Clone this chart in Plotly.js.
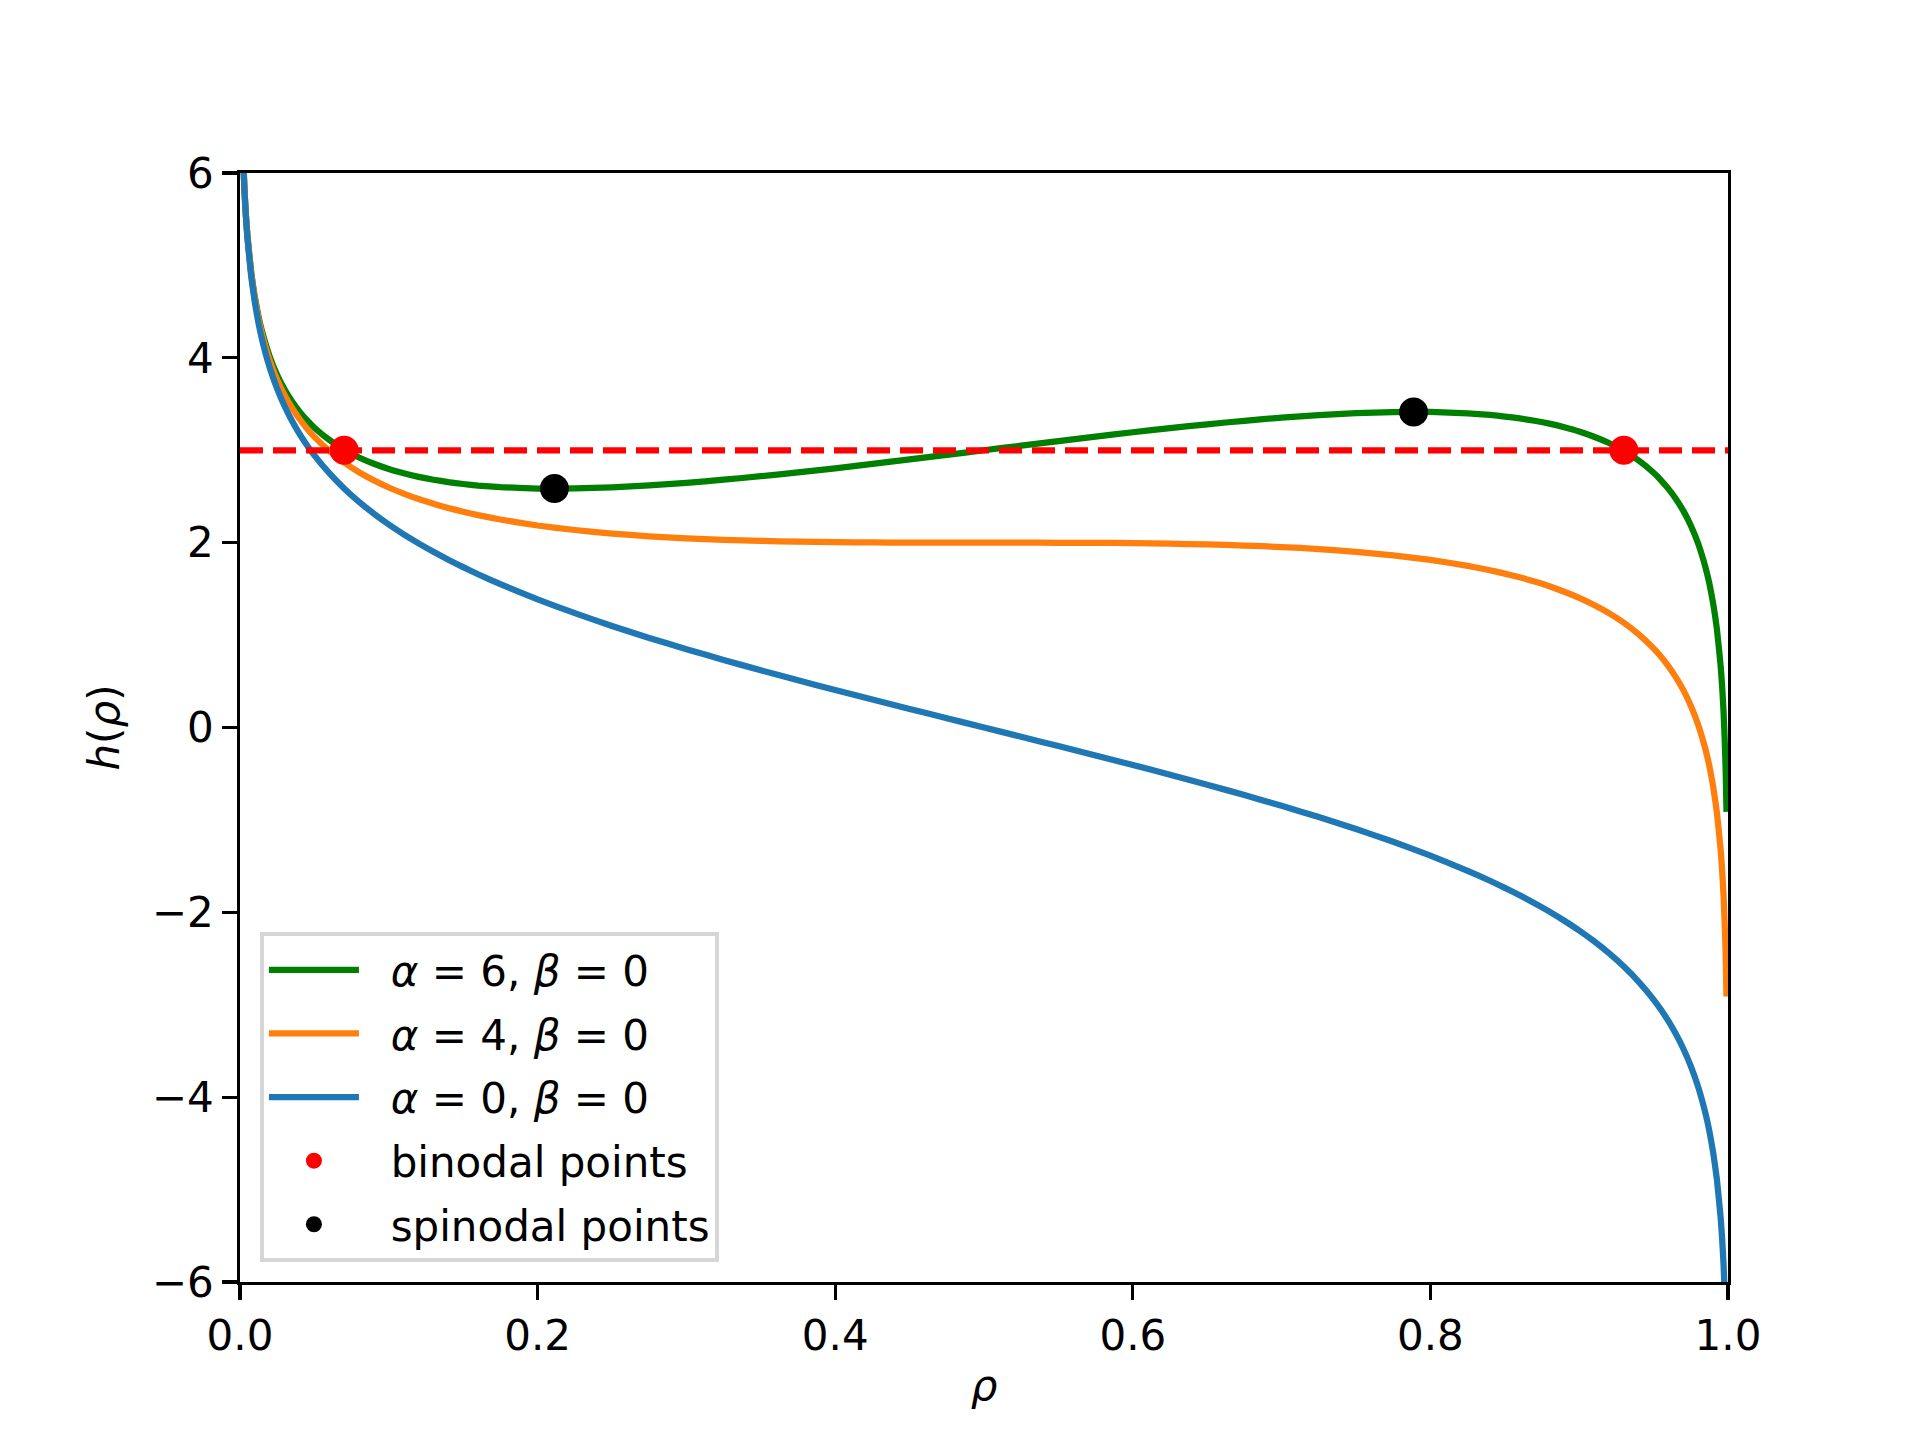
<!DOCTYPE html>
<html>
<head>
<meta charset="utf-8">
<script src="https://cdn.plot.ly/plotly-3.0.1.min.js"></script>
<style>html,body{margin:0;padding:0;background:#fff;}</style>
</head>
<body>
<div id="chart" style="width:1920px;height:1440px;"></div>
<script>
// density values (x axis)
const rho = [0.001, 0.0015, 0.002, 0.003, 0.004, 0.005, 0.0075, 0.01, 0.0125, 0.015, 0.02, 0.025, 0.03, 0.035, 0.04, 0.045,
             0.05, 0.06, 0.07, 0.08, 0.09, 0.1, 0.11, 0.12, 0.13, 0.14, 0.15, 0.16, 0.175, 0.2, 0.225, 0.25, 0.275, 0.3,
             0.325, 0.35, 0.375, 0.4, 0.425, 0.45, 0.475, 0.5,
             0.525, 0.55, 0.575, 0.6, 0.625, 0.65, 0.675, 0.7, 0.725, 0.75, 0.775, 0.8, 0.825, 0.84, 0.85, 0.86, 0.87,
             0.88, 0.89, 0.9, 0.91, 0.92, 0.93, 0.94, 0.95, 0.955, 0.96, 0.965, 0.97, 0.975, 0.98, 0.985, 0.9875, 0.99,
             0.9925, 0.995, 0.996, 0.997, 0.998, 0.9985, 0.999];
// h(rho) for alpha = 6, beta = 0
const hAlpha6 = [6.913, 6.510, 6.225, 5.824, 5.541, 5.323, 4.930, 4.655, 4.444, 4.275, 4.012, 3.814, 3.656, 3.527, 3.418, 3.325,
                 3.244, 3.112, 3.007, 2.922, 2.854, 2.797, 2.751, 2.712, 2.681, 2.655, 2.635, 2.618, 2.601, 2.586, 2.587, 2.599, 2.619, 2.647,
                 2.681, 2.719, 2.761, 2.805, 2.852, 2.901, 2.950, 3.000,
                 3.050, 3.099, 3.148, 3.195, 3.239, 3.281, 3.319, 3.353, 3.381, 3.401, 3.413, 3.414, 3.399, 3.382, 3.365, 3.345, 3.319,
                 3.288, 3.249, 3.203, 3.146, 3.078, 2.993, 2.888, 2.756, 2.675, 2.582, 2.473, 2.344, 2.186, 1.988, 1.725, 1.556, 1.345,
                 1.070, 0.677, 0.459, 0.176, -0.225, -0.510, -0.913];
// h(rho) for alpha = 4, beta = 0
const hAlpha4 = [6.911, 6.507, 6.221, 5.818, 5.533, 5.313, 4.915, 4.635, 4.419, 4.245, 3.972, 3.764, 3.596, 3.457, 3.338, 3.235,
                 3.144, 2.992, 2.867, 2.762, 2.674, 2.597, 2.531, 2.472, 2.421, 2.375, 2.335, 2.298, 2.251, 2.186, 2.137, 2.099, 2.069, 2.047,
                 2.031, 2.019, 2.011, 2.005, 2.002, 2.001, 2.000, 2.000,
                 2.000, 1.999, 1.998, 1.995, 1.989, 1.981, 1.969, 1.953, 1.931, 1.901, 1.863, 1.814, 1.749, 1.702, 1.665, 1.625, 1.579,
                 1.528, 1.469, 1.403, 1.326, 1.238, 1.133, 1.008, 0.856, 0.765, 0.662, 0.543, 0.404, 0.236, 0.028, -0.245, -0.419, -0.635,
                 -0.915, -1.313, -1.533, -1.818, -2.221, -2.507, -2.911];
// h(rho) for alpha = 0, beta = 0
const hAlpha0 = [6.907, 6.501, 6.213, 5.806, 5.517, 5.293, 4.885, 4.595, 4.369, 4.185, 3.892, 3.664, 3.476, 3.317, 3.178, 3.055,
                 2.944, 2.752, 2.587, 2.442, 2.314, 2.197, 2.091, 1.992, 1.901, 1.815, 1.735, 1.658, 1.551, 1.386, 1.237, 1.099, 0.969, 0.847,
                 0.731, 0.619, 0.511, 0.405, 0.302, 0.201, 0.100, 0.000,
                 -0.100, -0.201, -0.302, -0.405, -0.511, -0.619, -0.731, -0.847, -0.969, -1.099, -1.237, -1.386, -1.551, -1.658, -1.735, -1.815, -1.901,
                 -1.992, -2.091, -2.197, -2.314, -2.442, -2.587, -2.752, -2.944, -3.055, -3.178, -3.317, -3.476, -3.664, -3.892, -4.185, -4.369, -4.595,
                 -4.885, -5.293, -5.517, -5.806, -6.213, -6.501, -6.907];
// binodal points
const binodalRho = [0.07, 0.93];
const binodalH = [3.0, 3.0];
// spinodal points
const spinodalRho = [0.2113, 0.7887];
const spinodalH = [2.585, 3.415];
// coexistence level (dashed line)
const levelRho = [0.0, 1.0];
const levelH = [3.0, 3.0];
// labels
const seriesLabels = ['<i>α</i> = 6, <i>β</i> = 0', '<i>α</i> = 4, <i>β</i> = 0', '<i>α</i> = 0, <i>β</i> = 0'];
const pointLabels = ['binodal points', 'spinodal points'];
const xTicks = [0.0, 0.2, 0.4, 0.6, 0.8, 1.0];
const yTicks = [-6, -4, -2, 0, 2, 4, 6];

const pad = '\u00a0\u00a0';
const LW = 6.25;
const curveLine = (c) => ({color: c, width: LW, shape: 'spline', smoothing: 0.4});
const traces = [
  {x: rho, y: hAlpha6, mode: 'lines', name: pad + seriesLabels[0], line: curveLine('#008000'), legendgroup: 'g1'},
  {x: rho, y: hAlpha4, mode: 'lines', name: pad + seriesLabels[1], line: curveLine('#ff7f0e'), legendgroup: 'g2'},
  {x: rho, y: hAlpha0, mode: 'lines', name: pad + seriesLabels[2], line: curveLine('#1f77b4'), legendgroup: 'g3'},
  {x: levelRho, y: levelH, mode: 'lines', showlegend: false, line: {color: '#ff0000', width: LW, dash: '23px,10px'}, hoverinfo: 'skip'},
  {x: binodalRho, y: binodalH, mode: 'markers', name: pad + pointLabels[0], marker: {color: '#ff0000', size: 29}, cliponaxis: false, legendgroup: 'g4'},
  {x: spinodalRho, y: spinodalH, mode: 'markers', name: pad + pointLabels[1], marker: {color: '#000000', size: 29}, cliponaxis: false, legendgroup: 'g5'}
];

const axisCommon = {
  showline: true, mirror: true, linecolor: '#000', linewidth: 3.3,
  ticks: 'outside', ticklen: 14.6, tickwidth: 3.3, tickcolor: '#000',
  showgrid: false, zeroline: false,
  tickfont: {family: 'DejaVu Sans', size: 42, color: '#000'},
  automargin: false
};

const layout = {
  width: 1920, height: 1440,
  paper_bgcolor: '#fff', plot_bgcolor: '#fff',
  margin: {l: 240, r: 192, t: 173, b: 158, pad: 0},
  font: {family: 'DejaVu Sans', size: 42, color: '#000'},
  showlegend: true,
  legend: {
    x: 0.0134, y: 0.018, xanchor: 'left', yanchor: 'bottom',
    bgcolor: 'rgba(255,255,255,0.8)', bordercolor: '#d6d6d6', borderwidth: 4,
    font: {family: 'DejaVu Sans', size: 42, color: '#000'},
    tracegroupgap: 6, itemwidth: 90
  },
  xaxis: Object.assign({}, axisCommon, {
    range: [0, 1], tickvals: xTicks, tickformat: '.1f',
    title: {text: '<i>ρ</i>', font: {family: 'DejaVu Sans', size: 42, color: '#000'}, standoff: 12}
  }),
  yaxis: Object.assign({}, axisCommon, {
    range: [-6, 6], tickvals: yTicks,
    title: {text: '<i>h</i>(<i>ρ</i>)', font: {family: 'DejaVu Sans', size: 42, color: '#000'}, standoff: 20}
  })
};

Plotly.newPlot('chart', traces, layout, {staticPlot: true, displayModeBar: false});
</script>
</body>
</html>
